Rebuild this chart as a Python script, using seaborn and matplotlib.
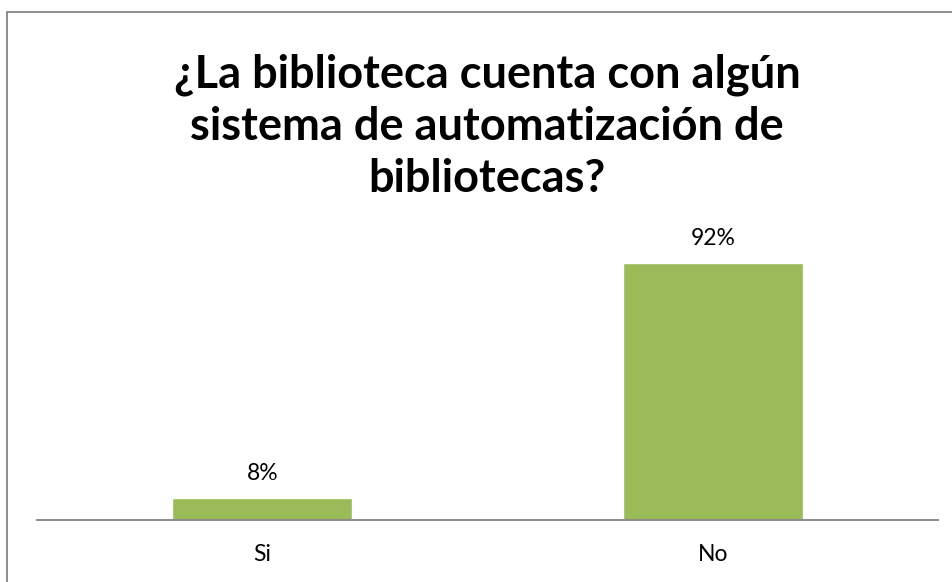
import pandas as pd
import matplotlib.pyplot as plt
import seaborn as sns
from matplotlib.lines import Line2D

# Chart data
categorias = ['Si', 'No']
porcentajes = [8, 92]
etiquetas = ['8%', '92%']
titulo = '¿La biblioteca cuenta con algún\nsistema de automatización de\nbibliotecas?'

data = pd.DataFrame({'Respuesta': categorias, 'Porcentaje': porcentajes})

sns.set_theme(style="white")
plt.rcParams['font.family'] = ['Lato', 'DejaVu Sans']

W, H = 953, 582
fig = plt.figure(figsize=(W / 100, H / 100), dpi=100)
fig.patch.set_facecolor('white')

# outer chart border: only left and top edges are visible
x0, y0 = 7.5 / W, (H - 11.5) / H
fig.add_artist(Line2D([x0, x0], [0, y0], transform=fig.transFigure,
                      color='#8c8c8c', linewidth=1.4))
fig.add_artist(Line2D([x0, 1.05], [y0, y0], transform=fig.transFigure,
                      color='#8c8c8c', linewidth=1.4))

ax = fig.add_axes([37 / W, (H - 520) / H, 901 / W, 279 / H])
sns.barplot(data=data, x='Respuesta', y='Porcentaje', color='#9BBB59',
            saturation=1, width=0.4, ax=ax)

ax.set_xlim(-0.5, 1.5)
ax.set_ylim(0, 100)
for side in ['top', 'right', 'left']:
    ax.spines[side].set_visible(False)
ax.spines['bottom'].set_color('#8c8c8c')
ax.spines['bottom'].set_linewidth(1.4)
ax.set_yticks([])
ax.set_xlabel('')
ax.set_ylabel('')
ax.tick_params(axis='x', length=0, labelsize=16.5, pad=17, colors='black')

for i, (v, lab) in enumerate(zip(porcentajes, etiquetas)):
    ax.annotate(lab, (i, v), xytext=(0, 10), textcoords='offset points',
                ha='center', va='bottom', fontsize=16.5, color='black')

fig.text(487 / W, (H - 127) / H, titulo, ha='center', va='center',
         fontsize=32.5, fontweight='bold', color='black', linespacing=1.3)

fig.savefig('out.png', dpi=100)
